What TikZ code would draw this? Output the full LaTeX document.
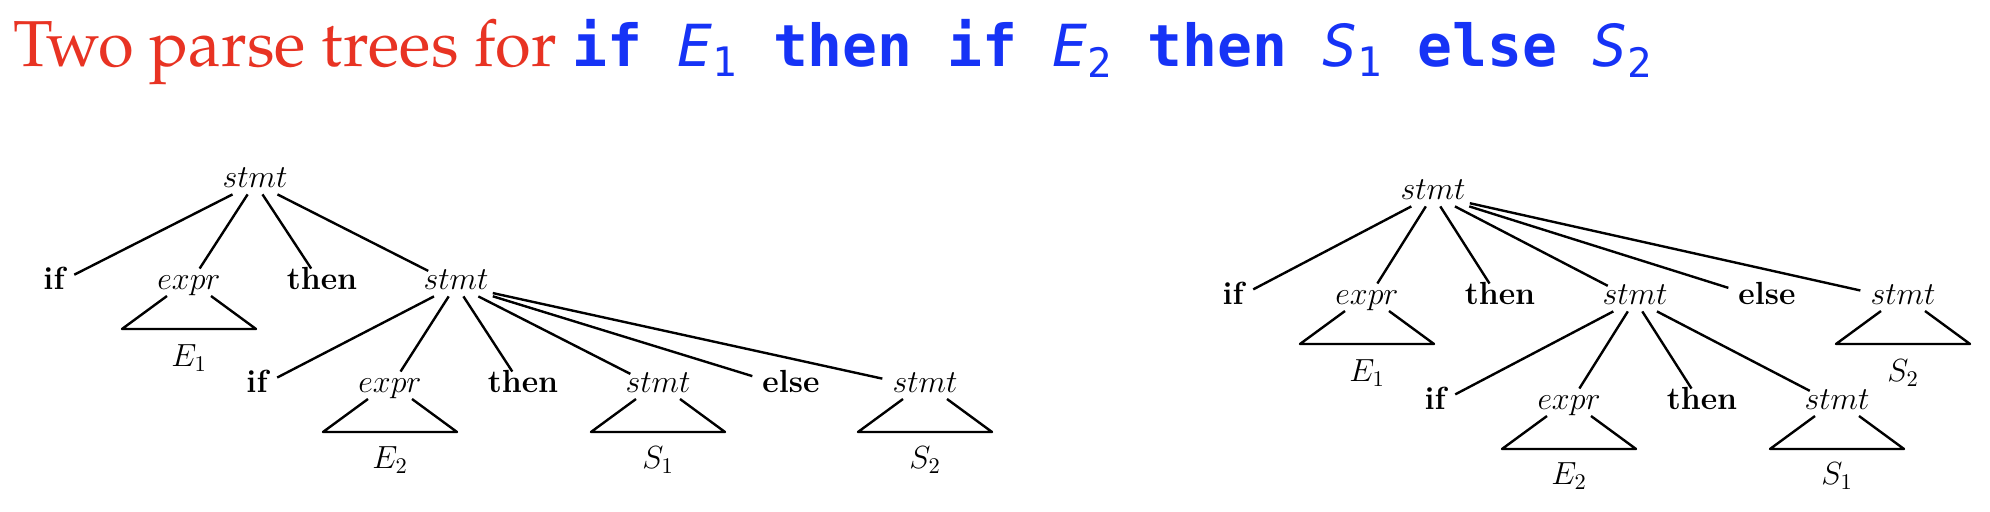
\RequirePackage{fix-cm}
\documentclass[tikz,border=0pt]{standalone}
\usepackage{fontspec}
\usepackage{xcolor}
\usepackage{tikz}
\usetikzlibrary{positioning,calc}
\IfFontExistsTF{texgyrepagella-regular.otf}
  {\newfontfamily\palfont{texgyrepagella-regular.otf}}
  {\newfontfamily\palfont{Liberation Serif}}
\newfontfamily\codefont{DejaVu Sans Mono}
\definecolor{titlered}{RGB}{232,51,35}
\definecolor{codeblue}{RGB}{22,51,246}
\newcommand{\codevar}[2]{{\mdseries\itshape #1}\textsubscript{\mdseries\upshape #2}}
\tikzset{
  treenode/.style = {inner xsep=2pt, inner ysep=1pt, anchor=base,
    text height=0.7em, text depth=0.2em,
    font=\fontsize{16}{19}\selectfont},
  pt_kw/.style = {treenode, font=\fontsize{16}{19}\selectfont\bfseries},% if, then, else
  pt_nt/.style = {treenode},% stmt, expr, E_1 ...
  pt_edge/.style = {line width=1.2pt, shorten >=3pt},
  pt_tri/.style = {line width=1.2pt, line join=round}
}

\begin{document}
\begin{tikzpicture}[x=0.5pt, y=-0.5pt]
\useasboundingbox[fill=white] (0,0) rectangle (1990,512);

% title
\node[anchor=base west, inner sep=0pt, text=titlered,
  font=\palfont\fontsize{32.5}{39}\selectfont] (title) at (13,67)
  {Two parse trees for {\color{codeblue}\codefont\fontsize{29}{35}\selectfont\bfseries
   if \codevar{E}{1} then if \codevar{E}{2} then \codevar{S}{1} else \codevar{S}{2}}};

% left tree: else belongs to the inner if
\node[pt_nt] (lroot) at (255,188) {$stmt$};
\node[pt_kw] (lif)    at (54,290)  {if};
\node[pt_nt] (lexpr)  at (189,290) {$expr$};
\node[pt_kw] (lthen)  at (322,290) {then};
\node[pt_nt] (lstmt)  at (456,290) {$stmt$};
\node[pt_kw] (lif2)   at (257,393) {if};
\node[pt_nt] (lexpr2) at (390,393) {$expr$};
\node[pt_kw] (lthen2) at (523,393) {then};
\node[pt_nt] (lstmt2) at (658,393) {$stmt$};
\node[pt_kw] (lelse)  at (791,393) {else};
\node[pt_nt] (lstmt3) at (925,393) {$stmt$};
\node[pt_nt] (lE1) at ($(lexpr.base)+(0,77)$)  {$E_1$};
\node[pt_nt] (lE2) at ($(lexpr2.base)+(0,76)$) {$E_2$};
\node[pt_nt] (lS1) at ($(lstmt2.base)+(0,76)$) {$S_1$};
\node[pt_nt] (lS2) at ($(lstmt3.base)+(0,76)$) {$S_2$};

\foreach \c in {lif,lexpr,lthen,lstmt}
  \draw[pt_edge] (lroot) -- (\c);
\foreach \c in {lif2,lexpr2,lthen2,lstmt2,lelse,lstmt3}
  \draw[pt_edge] (lstmt) -- (\c);

% right tree: else belongs to the outer if
\node[pt_nt] (rroot) at (1433,200) {$stmt$};
\node[pt_kw] (rif)    at (1233,305) {if};
\node[pt_nt] (rexpr)  at (1367,305) {$expr$};
\node[pt_kw] (rthen)  at (1500,305) {then};
\node[pt_nt] (rstmt)  at (1635,305) {$stmt$};
\node[pt_kw] (relse)  at (1767,305) {else};
\node[pt_nt] (rstmt3) at (1903,305) {$stmt$};
\node[pt_kw] (rif2)   at (1435,410) {if};
\node[pt_nt] (rexpr2) at (1569,410) {$expr$};
\node[pt_kw] (rthen2) at (1702,410) {then};
\node[pt_nt] (rstmt2) at (1837,410) {$stmt$};
\node[pt_nt] (rE1) at ($(rexpr.base)+(0,77)$)  {$E_1$};
\node[pt_nt] (rS2) at ($(rstmt3.base)+(0,77)$) {$S_2$};
\node[pt_nt] (rE2) at ($(rexpr2.base)+(0,75)$) {$E_2$};
\node[pt_nt] (rS1) at ($(rstmt2.base)+(0,75)$) {$S_1$};

\foreach \c in {rif,rexpr,rthen,rstmt,relse,rstmt3}
  \draw[pt_edge] (rroot) -- (\c);
\foreach \c in {rif2,rexpr2,rthen2,rstmt2}
  \draw[pt_edge] (rstmt) -- (\c);

% subtrees drawn as open triangles
\foreach \n in {lexpr,lexpr2,lstmt2,lstmt3,rexpr,rexpr2,rstmt2,rstmt3}
  \draw[pt_tri] ($(\n.base)+(-22,6)$) -- ($(\n.base)+(-67,39)$)
    -- ($(\n.base)+(67,39)$) -- ($(\n.base)+(22,6)$);
\end{tikzpicture}
\end{document}
